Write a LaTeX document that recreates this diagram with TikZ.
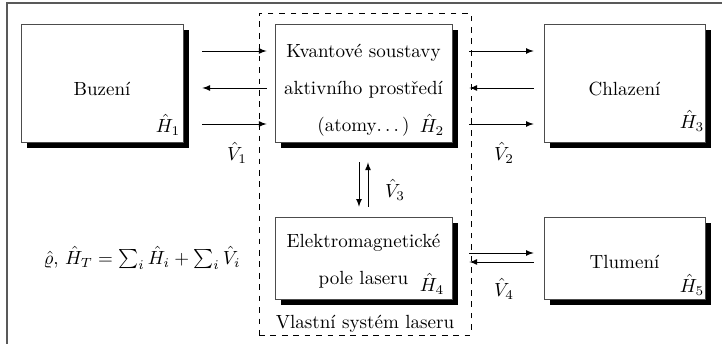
\documentclass[tikz,border=0pt]{standalone}
\usepackage{amsmath,amssymb}
\usepackage{tikz}
\usetikzlibrary{shadows}

\begin{document}
\begin{tikzpicture}[x=0.525pt,y=-0.525pt,
  blok/.style={rectangle,draw=black!70,fill=white,
    drop shadow={shadow xshift=3.2pt,shadow yshift=-3.2pt,fill=black,opacity=1}},
  popis/.style={align=center},
  sipka/.style={thin}]
\clip (0,0) rectangle (722,344);
\draw[black!65,line width=0.8pt] (7,3) rectangle (760,380);
\path (365,174) node(system)[draw,dashed,minimum width=111.3pt,minimum height=169pt]{};
\path (system.south) node(nazev)[above,inner sep=1.5pt]{Vlastní systém laseru};

\path (102,83) node(buzeni)[blok,minimum width=85pt,minimum height=62pt]{};
\path (363.5,83) node(kvant)[blok,minimum width=93pt,minimum height=62pt]{};
\path (624.5,83) node(chlaz)[blok,minimum width=84.5pt,minimum height=62pt]{};
\path (363.5,258) node(elmag)[blok,minimum width=93pt,minimum height=43pt]{};
\path (624.5,258) node(tlum)[blok,minimum width=84.5pt,minimum height=43pt]{};

\path (102,89) node(buzenitxt)[popis]{Buzení};
\path (363.5,90) node(kvanttxt)[popis]{Kvantové soustavy\\[7.4pt]
aktivního prostředí\\[7.4pt]
(atomy$\ldots$\,)};
\path (624.5,89) node(chlaztxt)[popis]{Chlazení};
\path (363.5,261) node(elmagtxt)[popis]{Elektromagnetické\\[7.4pt]
pole laseru};
\path (624.5,262) node(tlumtxt)[popis]{Tlumení};

\path (168,125) node(h1){$\hat{H}_1$};
\path (432,125) node(h2){$\hat{H}_2$};
\path (692,121) node(h3){$\hat{H}_3$};
\path (432,284) node(h4){$\hat{H}_4$};
\path (692,285) node(h5){$\hat{H}_5$};

\foreach \y/\smer in {51/-latex,88/latex-,124/-latex}{
  \draw[sipka,\smer,shorten <=10pt,shorten >=4.2pt] (buzeni.east|-0,\y) -- (kvant.west|-0,\y);
  \draw[sipka,\smer,shorten <=8.9pt,shorten >=5.25pt] (kvant.east|-0,\y) -- (chlaz.west|-0,\y);
}
\draw[sipka,-latex,shorten <=10.5pt,shorten >=5.25pt] (kvant.south-|359,0) -- (elmag.north-|359,0);
\draw[sipka,-latex,shorten <=5.25pt,shorten >=10.5pt] (elmag.north-|368,0) -- (kvant.south-|368,0);
\draw[sipka,-latex,shorten <=8.9pt,shorten >=5.25pt] (elmag.east|-0,253) -- (tlum.west|-0,253);
\draw[sipka,-latex,shorten <=5.25pt,shorten >=8.9pt] (tlum.west|-0,262) -- (elmag.east|-0,262);

\path (237,153) node(v1){$\hat{V}_1$};
\path (504,153) node(v2){$\hat{V}_2$};
\path (395,190) node(v3){$\hat{V}_3$};
\path (504,289) node(v4){$\hat{V}_4$};
\path (142,258) node(vzorec){$\hat{\varrho},\,\hat{H}_T=\sum_i\hat{H}_i+\sum_i\hat{V}_i$};
\end{tikzpicture}
\end{document}
